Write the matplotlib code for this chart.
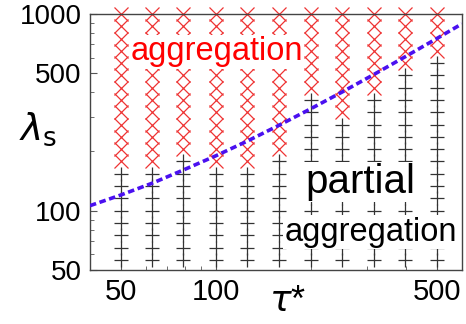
import numpy as np
import matplotlib
matplotlib.use('Agg')
import matplotlib.pyplot as plt
from matplotlib.ticker import FixedLocator, NullFormatter

plt.rcParams['font.family'] = ['Liberation Sans', 'DejaVu Sans']
plt.rcParams['mathtext.fontset'] = 'dejavusans'

# simulation grid (columns of tau*, rows of lambda_s)
tau_cols = [50, 63, 79, 100, 126, 158, 200, 251, 316, 398, 501]
lam_rows = [56.2, 64.9, 75.0, 86.6, 100, 115.5, 133.4, 154.0, 177.8, 205.4, 237.1,
            273.8, 316.2, 365.2, 421.7, 487.0, 562.3, 649.4, 749.9, 866.0, 1000]
# lowest lambda_s with full aggregation in each column
agg_start = [177.8, 177.8, 205.4, 177.8, 177.8, 205.4, 421.7, 316.2, 421.7, 562.3, 649.4]

# boundary line
tau_line = [40, 50, 63, 79, 100, 126, 158, 200, 251, 316, 398, 501, 600]
lam_line = [106, 120, 138, 161, 190, 226, 271, 330, 401, 492, 607, 751, 890]

xticks = [50, 100, 500]
yticks = [50, 100, 500, 1000]

fig = plt.figure(figsize=(4.66, 3.24), dpi=100)
ax = fig.add_axes([0.193, 0.167, 0.798, 0.790])
ax.set_xscale('log')
ax.set_yscale('log')

px, py, cx, cy = [], [], [], []
for t, a in zip(tau_cols, agg_start):
    for l in lam_rows:
        if l >= a:
            cx.append(t); cy.append(l)
        else:
            px.append(t); py.append(l)

ax.plot(px, py, '+', color='#333333', ms=10, mew=0.9, clip_on=False, zorder=2)
ax.plot(cx, cy, 'x', color='#ee3333', ms=9.5, mew=0.9, clip_on=False, zorder=2)
ax.plot(tau_line, lam_line, color='#4a10f0', lw=2.6, linestyle=(0, (1.8, 1.0)),
        zorder=4)

box = dict(facecolor='white', edgecolor='none', pad=1)
ax.text(0.341, 0.852, 'aggregation', color='#ff0000', fontsize=23.5,
        ha='center', va='center', transform=ax.transAxes, bbox=box, zorder=3)
ax.text(0.728, 0.344, 'partial', color='black', fontsize=29,
        ha='center', va='center', transform=ax.transAxes, bbox=box, zorder=3)
ax.text(0.755, 0.148, 'aggregation', color='black', fontsize=23.5,
        ha='center', va='center', transform=ax.transAxes, bbox=box, zorder=3)

ax.set_xlim(40, 600)
ax.set_ylim(50, 1000)
ax.xaxis.set_major_locator(FixedLocator(xticks))
ax.yaxis.set_major_locator(FixedLocator(yticks))
ax.set_xticklabels([str(v) for v in xticks])
ax.set_yticklabels([str(v) for v in yticks])
ax.xaxis.set_minor_formatter(NullFormatter())
ax.yaxis.set_minor_formatter(NullFormatter())
ax.tick_params(which='both', direction='in', color='#555555')
ax.tick_params(axis='x', labelsize=21)
ax.tick_params(axis='y', labelsize=20)
ax.tick_params(which='major', length=5, pad=6)
ax.tick_params(which='minor', length=3)
for s in ax.spines.values():
    s.set_color('#444444')
    s.set_linewidth(1.0)

fig.text(0.082, 0.6, r'$\lambda_{\rm s}$', fontsize=27, ha='center', va='center')
fig.text(0.618, 0.07, r'$\tau$*', fontsize=26, ha='center', va='center')

fig.savefig('out.png', dpi=100)
